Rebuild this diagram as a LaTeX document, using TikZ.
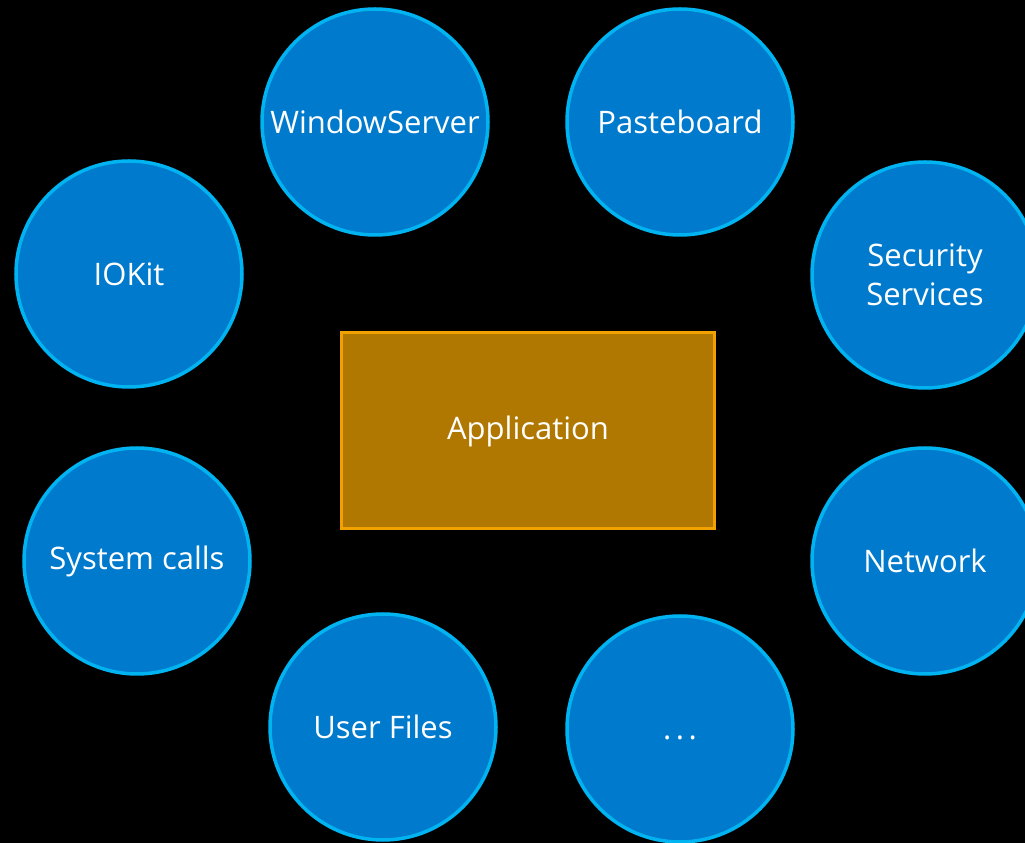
\documentclass[tikz,border=0pt]{standalone}
\usepackage{fontspec}
\setmainfont{Open Sans}
\definecolor{bubblefill}{HTML}{007ACC}
\definecolor{bubbleline}{HTML}{00B4F2}
\definecolor{appfill}{HTML}{B07800}
\definecolor{appline}{HTML}{F2A200}
\begin{document}
\begin{tikzpicture}[x=1pt,y=1pt,
  bubble/.style={circle, fill=bubblefill, draw=bubbleline, line width=3.5pt,
    minimum size=226pt, inner sep=0pt, text=white, font=\fontsize{31}{39}\selectfont, align=center},
  appbox/.style={rectangle, fill=appfill, draw=appline, line width=3pt,
    minimum width=373pt, minimum height=196pt, text=white, font=\fontsize{31}{39}\selectfont}]
\fill[black] (0,0) rectangle (1025,843);
\useasboundingbox (0,0) rectangle (1025,843);
\node[appbox] (app) at (528,412) {Application};
\node[bubble] (ws) at (375,721) {WindowServer};
\node[bubble] (pb) at (680,721) {Pasteboard};
\node[bubble] (io) at (129,569) {IOKit};
\node[bubble] (sec) at (925,568) {Security\\Services};
\node[bubble] (sys) at (137,282) {System calls};
\node[bubble] (net) at (925,282) {Network};
\node[bubble] (uf) at (383,116) {User Files};
\node[bubble] (more) at (680,114) {\vphantom{A}.\hspace{4.5pt}.\hspace{4.5pt}.};
\end{tikzpicture}
\end{document}
